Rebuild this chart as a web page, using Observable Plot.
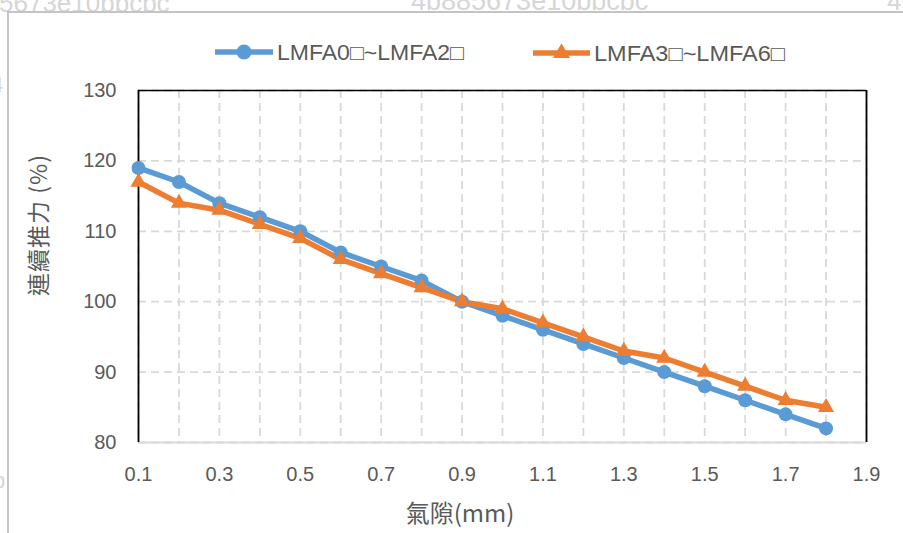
<!DOCTYPE html>
<html>
<head>
<meta charset="utf-8">
<script src="https://cdn.jsdelivr.net/npm/d3@7"></script>
<script src="https://cdn.jsdelivr.net/npm/@observablehq/plot@0.6"></script>
<style>
  html, body { margin: 0; padding: 0; background: #fff; }
  #wrap { position: relative; width: 903px; height: 533px; overflow: hidden; font-family: "Liberation Sans", "Noto Sans CJK TC", sans-serif; }
  #wrap svg.plot { position: absolute; left: 0; top: 0; }
  .wm { position: absolute; color: #d6d6d6; font-size: 26px; line-height: 30px; font-family: "Liberation Sans", sans-serif; white-space: nowrap; }
  #border { position: absolute; left: 7px; top: 11px; width: 1000px; height: 600px; border-left: 2px solid #c4c4c4; border-top: 2px solid #c4c4c4; }
  .axlabel { position: absolute; color: #595959; font-family: "Noto Sans CJK TC", "Liberation Sans", sans-serif; white-space: nowrap; line-height: 1; }
</style>
</head>
<body>
<div id="wrap">
  <div class="wm" style="left:-1px; top:-12px;">5673e10bbcbc</div>
  <div class="wm" style="left:411px; top:-14px; font-size:27px;">4b885673e10bbcbc</div>
  <div class="wm" style="left:887px; top:-14px;">4</div>
  <div class="wm" style="left:-9px; top:70px; font-size:22px;">4</div>
  <div class="wm" style="left:-7px; top:466px; font-size:22px;">b</div>
  <div id="border"></div>
  <div id="chart"></div>
  <div class="axlabel" id="ylab" style="left:37px; top:225px; font-size:23px; letter-spacing:1px; transform: translate(-50%,-50%) rotate(-90deg);">連續推力 (%)</div>
  <div class="axlabel" id="xlab" style="left:460px; top:512px; font-size:24px; transform: translate(-50%,-50%);">氣隙(mm)</div>
  <svg id="legend" width="903" height="90" style="position:absolute;left:0;top:0;"></svg>
</div>
<script>
const gaps = [0.1,0.2,0.3,0.4,0.5,0.6,0.7,0.8,0.9,1.0,1.1,1.2,1.3,1.4,1.5,1.6,1.7,1.8];
const seriesA = [119,117,114,112,110,107,105,103,100,98,96,94,92,90,88,86,84,82];
const seriesB = [117,114,113,111,109,106,104,102,100,99,97,95,93,92,90,88,86,85];
const nameA = "LMFA0\u25A1~LMFA2\u25A1";
const nameB = "LMFA3\u25A1~LMFA6\u25A1";
const xTicks = [0.1,0.3,0.5,0.7,0.9,1.1,1.3,1.5,1.7,1.9];
const xGrid = [0.1,0.2,0.3,0.4,0.5,0.6,0.7,0.8,0.9,1.0,1.1,1.2,1.3,1.4,1.5,1.6,1.7,1.8,1.9];
const yTicks = [80,90,100,110,120,130];

const blue = "#5B9BD5", orange = "#ED7D31";
const rowsA = gaps.map((g,i) => ({x:g, y:seriesA[i]}));
const rowsB = gaps.map((g,i) => ({x:g, y:seriesB[i]}));

const chart = Plot.plot({
  width: 903, height: 533,
  marginLeft: 138, marginRight: 37, marginTop: 90, marginBottom: 91,
  x: {domain: [0.1, 1.9]},
  y: {domain: [80, 130]},
  style: {fontFamily: "Liberation Sans, sans-serif", fontSize: "20px", color: "#595959", background: "transparent"},
  marks: [
    Plot.ruleX(xGrid, {stroke: "#d9d9d9", strokeWidth: 1.8, strokeDasharray: "8,5"}),
    Plot.ruleY(yTicks, {stroke: "#d9d9d9", strokeWidth: 1.8, strokeDasharray: "8,5"}),
    Plot.ruleY([80], {stroke: "#d9d9d9", strokeWidth: 1.8}),
    Plot.ruleY([130], {stroke: "#000", strokeWidth: 1.5}),
    Plot.ruleX([0.1, 1.9], {stroke: "#000", strokeWidth: 1.8}),
    Plot.axisX({ticks: xTicks, tickSize: 0, tickPadding: 24, tickFormat: d => d.toFixed(1), label: null}),
    Plot.axisY({ticks: yTicks, tickSize: 0, tickPadding: 22, label: null}),
    Plot.line(rowsA, {x: "x", y: "y", stroke: blue, strokeWidth: 5.5}),
    Plot.line(rowsB, {x: "x", y: "y", stroke: orange, strokeWidth: 5.5}),
    Plot.dot(rowsA, {x: "x", y: "y", r: 7, fill: blue, stroke: "none"}),
    Plot.dot(rowsB, {x: "x", y: "y", r: 6, symbol: "triangle", fill: orange, stroke: "none"})
  ]
});
chart.classList.add("plot");
document.getElementById("chart").appendChild(chart);

// legend
const lg = d3.select("#legend");
const items = [
  {name: nameA, color: blue, x0: 215, x1: 273, tx: 277, tl: 187, sym: "circle", y: 52},
  {name: nameB, color: orange, x0: 533, x1: 590, tx: 594, tl: 191, sym: "triangle", y: 53}
];
items.forEach(it => {
  lg.append("line").attr("x1", it.x0).attr("x2", it.x1).attr("y1", it.y).attr("y2", it.y)
    .attr("stroke", it.color).attr("stroke-width", 5.5);
  const sym = it.sym === "circle" ? d3.symbolCircle : d3.symbolTriangle;
  const size = it.sym === "circle" ? Math.PI * 56 : Math.PI * 40;
  lg.append("path").attr("d", d3.symbol(sym, size)())
    .attr("transform", `translate(${(it.x0 + it.x1) / 2},${it.y})`).attr("fill", it.color);
  lg.append("text").attr("x", it.tx).attr("y", it.y).attr("dy", "0.36em")
    .attr("font-family", "Liberation Sans, sans-serif").attr("font-size", 21.5)
    .attr("fill", "#595959").attr("textLength", it.tl).attr("lengthAdjust", "spacingAndGlyphs")
    .text(it.name);
});
</script>
</body>
</html>
